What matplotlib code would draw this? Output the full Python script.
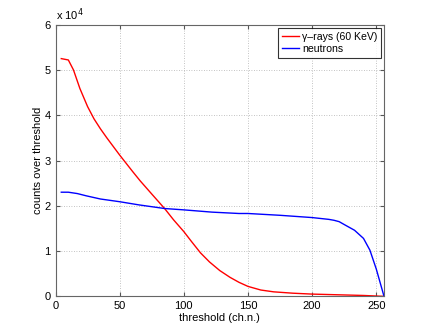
import matplotlib
matplotlib.use("Agg")
import matplotlib.pyplot as plt
from matplotlib.ticker import FuncFormatter

# threshold (ch.n.) and counts
gamma_x = [4.5, 10, 14, 19, 25, 30, 35, 40, 45, 50, 60, 66, 75, 85, 92, 100, 106, 113, 120, 128, 136, 143, 150, 160, 170, 185, 200, 220, 240, 256]
gamma_y = [52500, 52200, 50000, 45900, 41900, 39200, 37000, 35000, 33100, 31200, 27600, 25500, 22600, 19400, 16900, 14300, 12100, 9600, 7600, 5700, 4200, 3100, 2200, 1400, 1000, 700, 500, 350, 200, 0]

neut_x = [4.5, 10, 17, 24, 35, 50, 65, 85, 100, 122, 143, 150, 175, 200, 213, 217, 221, 226, 233, 240, 245, 250, 256]
neut_y = [23000, 23000, 22700, 22200, 21500, 20900, 20200, 19400, 19100, 18600, 18300, 18300, 17900, 17400, 17000, 16800, 16500, 15700, 14600, 12800, 10200, 6000, 0]

x_ticks = [0, 50, 100, 150, 200, 250]
y_ticks = [0, 10000, 20000, 30000, 40000, 50000, 60000]

plt.rcParams['font.family'] = ['Liberation Sans', 'DejaVu Sans']
fig = plt.figure(figsize=(4.25, 3.33), dpi=100)
ax = fig.add_axes([0.1306, 0.110, 0.773, 0.816])

ax.plot(gamma_x, gamma_y, color='#ff0000', lw=1.0, label='γ–rays (60 KeV)')
ax.plot(neut_x, neut_y, color='#0000ff', lw=1.0, label='neutrons')

ax.set_xlim(0, 256)
ax.set_ylim(0, 60000)
ax.set_xticks(x_ticks)
ax.set_yticks(y_ticks)
ax.yaxis.set_major_formatter(FuncFormatter(lambda v, p: f"{v/1e4:g}"))
ax.grid(True, linestyle=(0, (1, 2)), color='#b0b0b0', lw=0.6)
ax.tick_params(direction='in', length=3, labelsize=8, top=True, right=True, color='#555555')
for s in ax.spines.values():
    s.set_color('#666666')
    s.set_linewidth(0.8)

ax.set_xlabel('threshold (ch.n.)', fontsize=8, labelpad=1)
ax.set_ylabel('counts over threshold', fontsize=8, labelpad=1)
ax.text(0.0, 1.005, r'x 10$^4$', transform=ax.transAxes, fontsize=8, va='bottom', ha='left')

leg = ax.legend(loc='upper right', fontsize=7.6, frameon=True, fancybox=False,
                borderaxespad=0.3, handlelength=1.6, handletextpad=0.3,
                borderpad=0.35, labelspacing=0.25)
leg.get_frame().set_edgecolor('black')
leg.get_frame().set_linewidth(0.8)

fig.savefig('out.png', dpi=100)
